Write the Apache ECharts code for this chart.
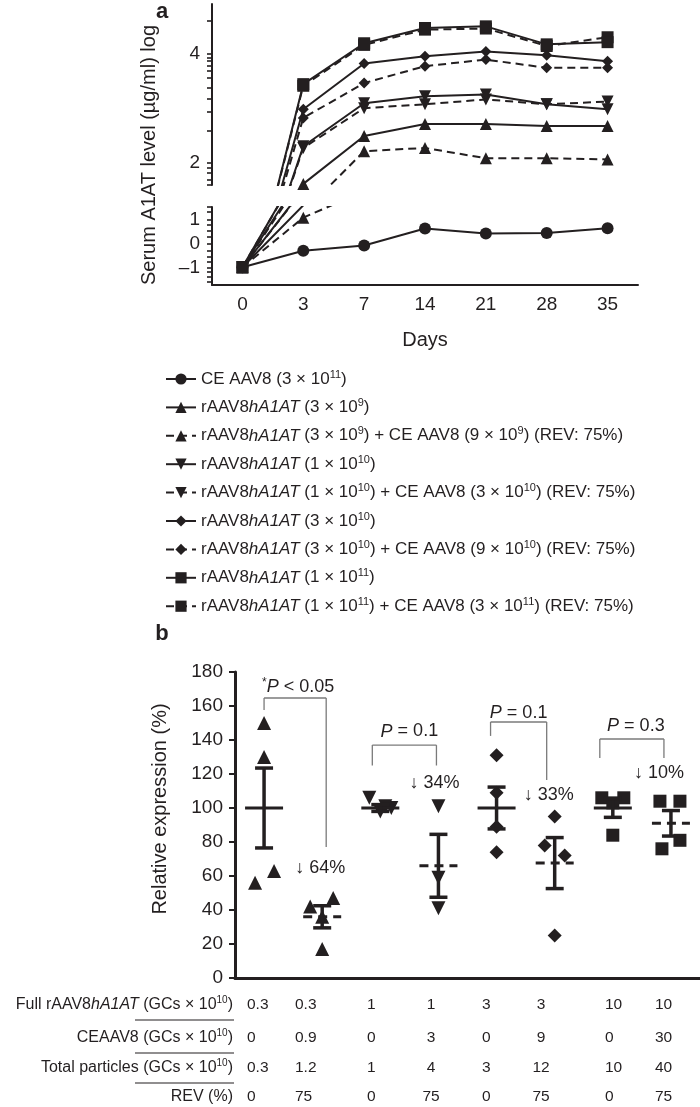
<!DOCTYPE html>
<html><head><meta charset="utf-8">
<script src="https://cdn.jsdelivr.net/npm/echarts@6/dist/echarts.min.js"></script>
<style>html,body{margin:0;padding:0;background:#fff}#c{width:700px;height:1107px}</style>
</head><body><div id="c"></div>
<script>
const FONT = "'Liberation Sans', Arial, Helvetica, sans-serif";
const INK = '#231f20';

// ---------- Panel a data ----------
const days = ['0', '3', '7', '14', '21', '28', '35'];
const seriesNames = [
  'CE AAV8 (3e11)', 'rAAV8 3e9', 'rAAV8 3e9 + CE', 'rAAV8 1e10', 'rAAV8 1e10 + CE',
  'rAAV8 3e10', 'rAAV8 3e10 + CE', 'rAAV8 1e11', 'rAAV8 1e11 + CE'
];
const legendLabels = [
  'CE AAV8 (3 × 10{s|11})',
  'rAAV8{i|hA1AT} (3 × 10{s|9})',
  'rAAV8{i|hA1AT} (3 × 10{s|9}) + CE AAV8 (9 × 10{s|9}) (REV: 75%)',
  'rAAV8{i|hA1AT} (1 × 10{s|10})',
  'rAAV8{i|hA1AT} (1 × 10{s|10}) + CE AAV8 (3 × 10{s|10}) (REV: 75%)',
  'rAAV8{i|hA1AT} (3 × 10{s|10})',
  'rAAV8{i|hA1AT} (3 × 10{s|10}) + CE AAV8 (9 × 10{s|10}) (REV: 75%)',
  'rAAV8{i|hA1AT} (1 × 10{s|11})',
  'rAAV8{i|hA1AT} (1 × 10{s|11}) + CE AAV8 (3 × 10{s|11}) (REV: 75%)'
];
const ceAAV8_3e11   = [-1, -0.30, -0.08, 0.64, 0.43, 0.45, 0.65];
const r3e9          = [-1, 1.62, 2.50, 2.72, 2.72, 2.68, 2.68];
const r3e9_rev      = [-1, 1.10, 2.22, 2.28, 2.09, 2.09, 2.07];
const r1e10         = [-1, 2.31, 3.10, 3.23, 3.26, 3.08, 2.99];
const r1e10_rev     = [-1, 2.28, 3.01, 3.08, 3.17, 3.08, 3.13];
const r3e10         = [-1, 2.99, 3.83, 3.96, 4.05, 3.98, 3.87];
const r3e10_rev     = [-1, 2.83, 3.47, 3.78, 3.90, 3.75, 3.75];
const r1e11         = [-1, 3.45, 4.20, 4.48, 4.51, 4.18, 4.22];
const r1e11_rev     = [-1, 3.42, 4.17, 4.45, 4.47, 4.15, 4.31];
const seriesValues = [ceAAV8_3e11, r3e9, r3e9_rev, r1e10, r1e10_rev, r3e10, r3e10_rev, r1e11, r1e11_rev];
const seriesSymbols = ['circle', 'triangle', 'triangle', 'triangle', 'triangle', 'diamond', 'diamond', 'rect', 'rect'];
const seriesRotate = [0, 0, 0, 180, 180, 0, 0, 0, 0];
const seriesDashed = [false, false, true, false, true, false, true, false, true];
const upperTickValues = [4.62, 4, 3.93, 3.87, 3.78, 3.69, 3.56, 3.39, 3.19, 2.95, 2.59, 2, 1.91, 1.82, 1.69, 1.6];
const upperLabelValues = [2, 4];
const lowerTickValues = [1.55, 1.35, 1, 0.8, 0.55, 0.3, 0, -0.3, -0.55, -0.75, -1, -1.2, -1.4, -1.6];
const lowerLabelValues = [-1, 0, 1];

// ---------- Panel b data ----------
const fullGC  = ['0.3', '0.3', '1', '1', '3', '3', '10', '10'];
const ceGC    = ['0', '0.9', '0', '3', '0', '9', '0', '30'];
const totalGC = ['0.3', '1.2', '1', '4', '3', '12', '10', '40'];
const revPct  = ['0', '75', '0', '75', '0', '75', '0', '75'];
const bCategories = fullGC.map((f, i) => f + ' / ' + revPct[i]);
const bPoints = [
  [150, 130, 56, 63],
  [17, 36, 42, 47],
  [106, 98, 100, 101],
  [101, 59, 41],
  [131, 109, 89, 74],
  [95, 78, 72, 25],
  [106, 106, 84, 103],
  [104, 104, 81, 76]
];
const bJitterPx = [
  [0, 0, -9, 10],
  [0, 0, -12, 11],
  [-11, 0, 11, 5],
  [0, 0, 0],
  [0, 0, 0, 0],
  [0, -10, 10, 0],
  [-11, 11, 0, 0],
  [-11, 9, 9, -9]
];
const bMean = [100, 36, 100, 66, 100, 67.6, 100, 91];
const bSem  = [23.5, 6.5, 2, 18.5, 12.3, 15, 5.5, 7.5];
const bSymbols = ['triangle', 'triangle', 'triangle', 'triangle', 'diamond', 'diamond', 'rect', 'rect'];
const bRotate  = [0, 0, 180, 180, 0, 0, 0, 0];
const bSymSize = {triangle: 14, diamond: 14, rect: 13};
const bTicks = {min: 0, max: 180, interval: 20};

const brackets = [
  {a: 0, b: 1, top: 164.7, legA: 157.6, legB: 77, dxA: 0, dxB: 4, label: '{s|*}{i|P} < 0.05', labelV: 171, labelDx: 3, drop: '↓ 64%', dropV: 64.7, dropDx: -2},
  {a: 2, b: 3, top: 137, legA: 125, legB: 125, dxA: -8, dxB: -2, label: '{i|P} = 0.1', labelV: 145, labelDx: 5, drop: '↓ 34%', dropV: 114.7, dropDx: -4},
  {a: 4, b: 5, top: 150.6, legA: 142.4, legB: 116.5, dxA: -6, dxB: -8, label: '{i|P} = 0.1', labelV: 156, labelDx: 0, drop: '↓ 33%', dropV: 107.6, dropDx: -6},
  {a: 6, b: 7, top: 140.6, legA: 129.4, legB: 129.4, dxA: -13, dxB: -7, label: '{i|P} = 0.3', labelV: 148.5, labelDx: 4, drop: '↓ 10%', dropV: 120.6, dropDx: -12}
];

const tableRowLabels = [
  'Full rAAV8{i|hA1AT} (GCs × 10{s|10})',
  'CEAAV8 (GCs × 10{s|10})',
  'Total particles (GCs × 10{s|10})',
  'REV (%)'
];
const tableRows = [fullGC, ceGC, totalGC, revPct];

// ---------- build ----------
const chart = echarts.init(document.getElementById('c'), null, {renderer: 'canvas'});

const symSizeA = {circle: 12, triangle: 12, diamond: 11, rect: 12};
const aSeries = [];
[0, 1].forEach(g => {
  seriesNames.forEach((name, i) => {
    aSeries.push({
      name: name,
      type: 'line',
      xAxisIndex: g, yAxisIndex: g,
      data: seriesValues[i],
      symbol: seriesSymbols[i],
      symbolRotate: seriesRotate[i],
      symbolSize: symSizeA[seriesSymbols[i]],
      showAllSymbol: true,
      clip: true,
      z: seriesDashed[i] ? 2 : 3,
      lineStyle: {color: INK, width: 2, type: seriesDashed[i] ? [8, 5] : 'solid'},
      itemStyle: {color: INK, borderWidth: 0, opacity: 1},
      emphasis: {disabled: true}
    });
  });
});

const scatterData = [];
bPoints.forEach((arr, gi) => {
  arr.forEach((v, j) => {
    scatterData.push({
      value: [gi, v],
      symbol: bSymbols[gi],
      symbolRotate: bRotate[gi],
      symbolSize: bSymSize[bSymbols[gi]],
      symbolOffset: [bJitterPx[gi][j], 0]
    });
  });
});

const axisLineA = {show: true, onZero: false, lineStyle: {color: INK, width: 2}};
const tickA = {show: true, length: 5, lineStyle: {color: INK, width: 1.6}};
const labelA = {fontSize: 19, color: INK, fontFamily: FONT};

const option = {
  animation: false,
  backgroundColor: '#fff',
  textStyle: {fontFamily: FONT},
  grid: [
    {left: 212, top: 4, width: 426, height: 181},
    {left: 212, top: 207, width: 426, height: 78},
    {left: 235, top: 672, width: 465, height: 306}
  ],
  legend: {
    data: seriesNames,
    orient: 'vertical',
    left: 160, top: 364,
    itemWidth: 30, itemHeight: 14, itemGap: 8.4,
    selectedMode: false,
    formatter: name => legendLabels[seriesNames.indexOf(name)],
    textStyle: {
      fontSize: 17, color: INK, fontFamily: FONT, lineHeight: 20,
      rich: {
        i: {fontSize: 17, fontStyle: 'italic', fontFamily: FONT, color: INK, lineHeight: 20},
        s: {fontSize: 11, fontFamily: FONT, color: INK, verticalAlign: 'top', lineHeight: 12}
      }
    }
  },
  xAxis: [
    {gridIndex: 0, type: 'category', data: days, boundaryGap: true, show: false},
    {gridIndex: 1, type: 'category', data: days, boundaryGap: true,
      axisLine: axisLineA,
      axisTick: {alignWithLabel: true, length: 6, lineStyle: {color: INK, width: 2}},
      axisLabel: Object.assign({margin: 10}, labelA)},
    {gridIndex: 2, type: 'category', data: bCategories, boundaryGap: true,
      axisLine: {onZero: false, lineStyle: {color: INK, width: 3}},
      axisTick: {show: false}, axisLabel: {show: false}}
  ],
  yAxis: [
    {gridIndex: 0, type: 'value', min: 1.6, max: 4.92,
      axisLine: axisLineA, splitLine: {show: false},
      axisTick: Object.assign({customValues: upperTickValues}, tickA),
      axisLabel: Object.assign({customValues: upperLabelValues, margin: 12}, labelA)},
    {gridIndex: 1, type: 'value', min: -1.75, max: 1.55,
      axisLine: axisLineA, splitLine: {show: false},
      axisTick: Object.assign({customValues: lowerTickValues}, tickA),
      axisLabel: Object.assign({customValues: lowerLabelValues, margin: 12,
        formatter: v => (v < 0 ? '–' + Math.abs(v) : String(v))}, labelA)},
    {gridIndex: 2, type: 'value', min: bTicks.min, max: bTicks.max, interval: bTicks.interval,
      axisLine: {show: true, lineStyle: {color: INK, width: 3}}, splitLine: {show: false},
      axisTick: {show: true, length: 6, lineStyle: {color: INK, width: 2}},
      axisLabel: {fontSize: 19, color: INK, fontFamily: FONT, margin: 12}}
  ],
  series: aSeries.concat([
    {
      name: 'individual animals', type: 'scatter', xAxisIndex: 2, yAxisIndex: 2,
      data: scatterData, itemStyle: {color: INK, opacity: 1}, z: 3, emphasis: {disabled: true}
    },
    {
      name: 'mean ± SEM', type: 'custom', xAxisIndex: 2, yAxisIndex: 2, z: 4,
      data: bMean.map((m, i) => [i, m, bSem[i]]),
      renderItem: (params, api) => {
        const x = api.value(0), m = api.value(1), e = api.value(2);
        const c = api.coord([x, m]);
        const t = api.coord([x, m + e]);
        const b = api.coord([x, m - e]);
        const dashed = params.dataIndex % 2 === 1;
        const st = {stroke: INK, lineWidth: 3.5};
        return {type: 'group', children: [
          {type: 'line', shape: {x1: c[0] - 19, y1: c[1], x2: c[0] + 19, y2: c[1]},
            style: {stroke: INK, lineWidth: 3, lineDash: dashed ? [9, 6] : null}},
          {type: 'line', shape: {x1: c[0], y1: t[1], x2: c[0], y2: b[1]}, style: st},
          {type: 'line', shape: {x1: c[0] - 9, y1: t[1], x2: c[0] + 9, y2: t[1]}, style: st},
          {type: 'line', shape: {x1: c[0] - 9, y1: b[1], x2: c[0] + 9, y2: b[1]}, style: st}
        ]};
      }
    }
  ])
};
chart.setOption(option);

// ---------- annotations ----------
function txt(text, x, y, size, align, extra) {
  return Object.assign({
    type: 'text', silent: true,
    style: {
      text: text, x: x, y: y,
      fontSize: size, fontFamily: FONT, fill: INK,
      align: align || 'center', textAlign: align || 'center',
      verticalAlign: 'middle', textVerticalAlign: 'middle',
      lineHeight: size + 3,
      rich: {
        i: {fontSize: size, fontFamily: FONT, fontStyle: 'italic', fill: INK, lineHeight: size + 3},
        s: {fontSize: Math.round(size * 0.65), fontFamily: FONT, fill: INK, verticalAlign: 'top', lineHeight: Math.round(size * 0.7)}
      }
    }
  }, extra || {});
}
function line(x1, y1, x2, y2, w, color) {
  return {type: 'line', silent: true, shape: {x1, y1, x2, y2}, style: {stroke: color || INK, lineWidth: w || 1}};
}
const px = (gi, v) => chart.convertToPixel({xAxisIndex: 2, yAxisIndex: 2}, [bCategories[gi], v]);

const els = [];
els.push(txt('a', 162, 12, 22, 'center', {style: Object.assign(txt('a', 162, 12, 22).style, {fontWeight: 'bold'})}));
els.push(txt('b', 162, 634, 22, 'center', {style: Object.assign(txt('b', 162, 634, 22).style, {fontWeight: 'bold'})}));
els.push(txt('Serum A1AT level (µg/ml) log', 149, 155, 20, 'center', {rotation: Math.PI / 2, x: 149, y: 155,
  style: Object.assign(txt('Serum A1AT level (µg/ml) log', 0, 0, 20).style, {x: 0, y: 0})}));
els.push(txt('Days', 425, 340, 20));
els.push(txt('Relative expression (%)', 160, 809, 20, 'center', {rotation: Math.PI / 2, x: 160, y: 809,
  style: Object.assign(txt('Relative expression (%)', 0, 0, 20).style, {x: 0, y: 0})}));

const GRAY = '#7a7a7a';
brackets.forEach(br => {
  const pa = px(br.a, br.top), pb = px(br.b, br.top);
  const xa = pa[0] + br.dxA, xb = pb[0] + br.dxB, yTop = pa[1];
  const yA = px(br.a, br.legA)[1], yB = px(br.b, br.legB)[1];
  els.push(line(xa, yTop, xb, yTop, 1.3, GRAY));
  els.push(line(xa, yTop, xa, yA, 1.3, GRAY));
  els.push(line(xb, yTop, xb, yB, 1.3, GRAY));
  const ly = px(br.a, br.labelV)[1];
  els.push(txt(br.label, (xa + xb) / 2 + br.labelDx, ly, 18));
  const d = px(br.b, br.dropV);
  els.push(txt(br.drop, d[0] + br.dropDx, d[1], 18));
});

// table
const rowY = [1005, 1038, 1068, 1097];
const colX = [247, 295, 367, 431, 482, 541, 605, 655];
const colAlign = ['left', 'left', 'left', 'center', 'left', 'center', 'left', 'left'];
tableRowLabels.forEach((lab, r) => {
  els.push(txt(lab, 233, rowY[r], 16, 'right'));
  if (r < 3) els.push(line(135, rowY[r] + 15, 234, rowY[r] + 15, 1.2, INK));
  tableRows[r].forEach((v, c) => {
    els.push(txt(v, colX[c], rowY[r], 15.5, colAlign[c]));
  });
});

chart.setOption({graphic: {elements: els}});
</script></body></html>
